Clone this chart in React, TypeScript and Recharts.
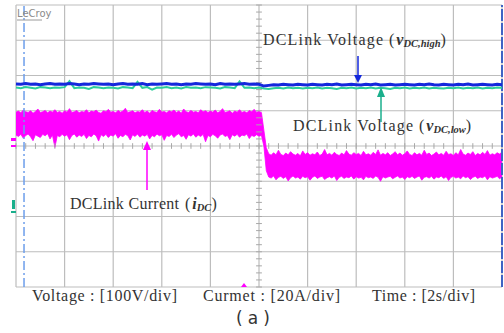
import React from "react";
import { ComposedChart, Area, Line, XAxis, YAxis, CartesianGrid, ReferenceLine } from "recharts";

// scope screen: 10 time divisions (2 s/div) x 8 vertical divisions
const timeTicks = [0, 2, 4, 6, 8, 10, 12, 14, 16, 18, 20];
const divTicks = [0, 1, 2, 3, 4, 5, 6, 7, 8];
const currentStep = 0.1; // s between current samples
const voltageStep = 0.2; // s between voltage samples

// voltage traces in screen divisions
const vHigh = [
  5.76, 5.75, 5.77, 5.75, 5.76, 5.74, 5.76, 5.77, 5.75, 5.76,
  5.75, 5.77, 5.76, 5.74, 5.76, 5.75, 5.77, 5.76, 5.75, 5.76,
  5.74, 5.76, 5.77, 5.75, 5.76, 5.75, 5.77, 5.74, 5.76, 5.75,
  5.76, 5.77, 5.75, 5.76, 5.74, 5.76, 5.75, 5.77, 5.76, 5.75,
  5.76, 5.74, 5.77, 5.75, 5.76, 5.75, 5.76, 5.77, 5.75, 5.76,
  5.75, 5.70, 5.72, 5.74, 5.73, 5.75, 5.74, 5.73, 5.75, 5.74,
  5.73, 5.75, 5.74, 5.73, 5.75, 5.74, 5.76, 5.73, 5.74, 5.75,
  5.74, 5.73, 5.75, 5.74, 5.76, 5.73, 5.74, 5.75, 5.73, 5.74,
  5.75, 5.74, 5.73, 5.75, 5.74, 5.76, 5.74, 5.73, 5.75, 5.74,
  5.73, 5.75, 5.74, 5.76, 5.73, 5.74, 5.75, 5.74, 5.73, 5.75,
  5.74,
];
const vLow = [
  5.66, 5.64, 5.67, 5.65, 5.63, 5.67, 5.66, 5.64, 5.66, 5.65,
  5.67, 5.84, 5.64, 5.66, 5.65, 5.62, 5.67, 5.66, 5.64, 5.66,
  5.65, 5.63, 5.67, 5.66, 5.64, 5.82, 5.65, 5.67, 5.60, 5.66,
  5.65, 5.67, 5.64, 5.66, 5.63, 5.67, 5.65, 5.66, 5.64, 5.67,
  5.66, 5.65, 5.63, 5.67, 5.66, 5.64, 5.83, 5.65, 5.66, 5.64,
  5.66, 5.63, 5.62, 5.64, 5.65, 5.63, 5.66, 5.64, 5.65, 5.63,
  5.65, 5.64, 5.66, 5.63, 5.65, 5.64, 5.62, 5.65, 5.64, 5.66,
  5.63, 5.65, 5.64, 5.66, 5.63, 5.65, 5.64, 5.62, 5.65, 5.64,
  5.66, 5.63, 5.65, 5.64, 5.66, 5.63, 5.65, 5.64, 5.63, 5.65,
  5.64, 5.66, 5.63, 5.65, 5.64, 5.66, 5.63, 5.65, 5.64, 5.66,
  5.65,
];
// DC link current: upper and lower edge of the noise band (0 .. 20 s)
const iTop = [
  4.96, 4.99, 4.94, 5.02, 4.97, 4.95, 5.00, 4.93, 4.98, 5.05,
  4.95, 4.97, 5.01, 4.94, 4.99, 4.96, 5.03, 4.95, 4.98, 4.93,
  5.00, 4.96, 5.06, 4.95, 4.97, 5.01, 4.94, 4.98, 4.96, 5.03,
  4.94, 4.99, 4.97, 5.02, 4.95, 4.93, 5.00, 4.97, 5.04, 4.96,
  4.98, 4.94, 5.01, 4.96, 4.99, 5.07, 4.95, 4.97, 5.00, 4.94,
  4.98, 4.96, 5.03, 4.95, 4.99, 4.93, 5.01, 4.97, 4.95, 5.04,
  4.96, 4.98, 4.94, 5.00, 4.97, 5.02, 4.95, 4.99, 4.93, 5.05,
  4.97, 4.95, 5.01, 4.96, 4.98, 4.94, 5.03, 4.97, 5.00, 4.95,
  4.99, 4.96, 5.02, 4.94, 4.98, 5.06, 4.95, 4.97, 5.00, 4.93,
  4.99, 4.96, 5.03, 4.95, 4.98, 4.94, 5.01, 4.97, 5.04, 4.96,
  4.98, 4.95,
  4.45, 3.95,
  3.78, 3.74, 3.81, 3.75, 3.88, 3.76, 3.73, 3.80, 3.75, 3.84,
  3.77, 3.74, 3.79, 3.72, 3.86, 3.76, 3.81, 3.74, 3.78, 3.75,
  3.83, 3.73, 3.77, 3.90, 3.75, 3.79, 3.74, 3.82, 3.76, 3.73,
  3.80, 3.75, 3.87, 3.77, 3.74, 3.81, 3.76, 3.79, 3.73, 3.85,
  3.75, 3.78, 3.74, 3.82, 3.76, 3.89, 3.74, 3.79, 3.75, 3.81,
  3.73, 3.77, 3.84, 3.75, 3.80, 3.74, 3.78, 3.86, 3.76, 3.73,
  3.81, 3.75, 3.79, 3.74, 3.88, 3.76, 3.80, 3.73, 3.77, 3.83,
  3.75, 3.79, 3.74, 3.85, 3.76, 3.78, 3.73, 3.81, 3.75, 3.90,
  3.77, 3.74, 3.80, 3.76, 3.84, 3.73, 3.79, 3.75, 3.82, 3.76,
  3.87, 3.74, 3.78, 3.75, 3.81, 3.77, 3.83,
];
const iBottom = [
  4.31, 4.27, 4.33, 4.22, 4.30, 4.34, 4.26, 4.15, 4.32, 4.28,
  4.24, 4.33, 4.29, 4.35, 4.20, 4.31, 3.96, 4.30, 4.26, 4.33,
  4.28, 4.32, 4.18, 4.30, 4.34, 4.25, 4.31, 4.27, 4.33, 4.21,
  4.30, 4.26, 4.34, 4.29, 4.14, 4.32, 4.27, 4.33, 4.24, 4.31,
  4.28, 4.35, 4.22, 4.30, 4.26, 4.33, 4.29, 4.17, 4.32, 4.27,
  4.34, 4.25, 4.31, 4.28, 4.33, 4.20, 4.30, 4.26, 4.34, 4.29,
  4.32, 4.16, 4.30, 4.27, 4.33, 4.24, 4.31, 4.35, 4.26, 4.30,
  4.19, 4.32, 4.28, 4.34, 4.25, 4.31, 4.27, 4.33, 4.12, 4.30,
  4.26, 4.33, 4.29, 4.22, 4.31, 4.34, 4.27, 4.30, 4.18, 4.32,
  4.28, 4.33, 4.25, 4.31, 4.29, 4.34, 4.21, 4.30, 4.27, 4.32,
  4.28, 4.30,
  4.00, 3.30,
  3.12, 3.09, 3.15, 3.04, 3.11, 3.14, 3.08, 3.13, 3.01, 3.10,
  3.15, 3.09, 3.12, 3.06, 3.14, 3.10, 3.13, 3.03, 3.11, 3.15,
  3.08, 3.12, 3.14, 3.05, 3.10, 3.13, 3.09, 3.15, 3.02, 3.11,
  3.14, 3.08, 3.12, 3.10, 3.15, 3.06, 3.13, 3.09, 3.11, 3.04,
  3.14, 3.10, 3.12, 3.08, 3.15, 3.11, 3.00, 3.13, 3.09, 3.12,
  3.14, 3.07, 3.11, 3.15, 3.09, 3.12, 3.05, 3.13, 3.10, 3.14,
  3.08, 3.12, 3.15, 3.03, 3.11, 3.13, 3.09, 3.14, 3.06, 3.12,
  3.10, 3.15, 3.08, 3.13, 3.02, 3.11, 3.14, 3.09, 3.12, 3.07,
  3.15, 3.10, 3.13, 3.05, 3.11, 3.14, 3.08, 3.12, 3.10, 3.15,
  3.04, 3.13, 3.09, 3.11, 3.14, 3.07, 3.12,
];

const ratio = Math.round(voltageStep / currentStep);
const data = iTop.map((top, i) => {
  const vi = i % ratio === 0 ? i / ratio : -1;
  return {
    t: Math.round(i * currentStep * 10) / 10,
    iDC: [iBottom[i], top],
    vHigh: vi >= 0 ? vHigh[vi] : null,
    vLow: vi >= 0 ? vLow[vi] : null,
  };
});

// small tick marks on the centre cross
const minorT = Array.from({ length: 51 }, (_, i) => Math.round(i * 4) / 10);
const minorD = Array.from({ length: 41 }, (_, i) => Math.round(i * 2) / 10);

const serif = "Liberation Serif, DejaVu Serif, serif";
const txt = "#333";

// "DCLink xxx (sym_sub)" annotation
function Note({ x, y, main, len, px, sym, sub }: { x: number; y: number; main: string; len: number; px: number; sym: string; sub: string }) {
  return (
    <g style={{ fontFamily: serif }} fill={txt}>
      <text x={x} y={y} fontSize={16} textLength={len} lengthAdjust="spacing">{main}</text>
      <text x={px} y={y} fontSize={16}>
        (
        <tspan dx="2" fontStyle="italic" fontWeight="bold">{sym}</tspan>
        <tspan fontStyle="italic" fontWeight="bold" fontSize="10.5" dy="2">{sub}</tspan>
        <tspan dy="-2">)</tspan>
      </text>
    </g>
  );
}

export default function App() {
  return (
    <div style={{ position: "absolute", left: 0, top: 0, width: 504, height: 333, background: "#fff" }}>
      <ComposedChart width={504} height={333} data={data} margin={{ top: 5, right: 2, left: 16, bottom: 46 }}>
        <XAxis dataKey="t" type="number" domain={[0, 20]} ticks={timeTicks} hide />
        <YAxis type="number" domain={[0, 8]} ticks={divTicks} hide />
        <CartesianGrid stroke="#bdbdbd" strokeWidth={1.2} />
        {minorT.map((t) => (
          <ReferenceLine key={"mt" + t} segment={[{ x: t, y: 3.92 }, { x: t, y: 4.08 }]} stroke="#a8a8a8" />
        ))}
        {minorD.map((d) => (
          <ReferenceLine key={"md" + d} segment={[{ x: 9.88, y: d }, { x: 10.12, y: d }]} stroke="#a8a8a8" />
        ))}
        <ReferenceLine x={0.33} stroke="#6d9eeb" strokeWidth={1.5} strokeDasharray="9 3 2 3" />
        <ReferenceLine x={20} stroke="#3f63c4" strokeWidth={2} strokeDasharray="12 2" />
        <Area dataKey="iDC" type="linear" stroke="#ff00ff" strokeWidth={0.8} fill="#ff00ff" fillOpacity={1} isAnimationActive={false} />
        <Line dataKey="vLow" type="linear" stroke="#2ccf9a" strokeWidth={2} dot={false} connectNulls isAnimationActive={false} />
        <Line dataKey="vHigh" type="linear" stroke="#1428dc" strokeWidth={3} dot={false} connectNulls isAnimationActive={false} />
      </ComposedChart>

      <svg width={504} height={333} style={{ position: "absolute", left: 0, top: 0, pointerEvents: "none" }}>
        <text x={17} y={17} fontFamily="DejaVu Sans, sans-serif" fontSize={10} fill="#8a8a8a">LeCroy</text>
        <line x1={17} y1={20} x2={42} y2={20} stroke="#9a9a9a" strokeWidth={1} />
        <rect x={11} y={138} width={5} height={3} fill="#ff00ff" />
        <rect x={11} y={145} width={5} height={2} fill="#ff00ff" />
        <rect x={12} y={200} width={3} height={9} fill="#1aaf8c" />
        <rect x={11} y={211} width={5} height={2} fill="#1aaf8c" />
        <polygon points="241,287 247,287 244,283" fill="#ff00ff" />

        <line x1={358} y1={56} x2={358} y2={76} stroke="#1428dc" strokeWidth={1.5} />
        <polygon points="354,75 362,75 358,83" fill="#1428dc" />
        <line x1={381} y1={96} x2={381} y2={122} stroke="#1aaf8c" strokeWidth={1.5} />
        <polygon points="377,97 385,97 381,87" fill="#1aaf8c" />
        <line x1={147} y1={149} x2={147} y2={190} stroke="#ff00ff" strokeWidth={1.5} />
        <polygon points="143,150 151,150 147,141" fill="#ff00ff" />

        <Note x={263} y={45} main="DCLink Voltage" len={120} px={389} sym="v" sub="DC,high" />
        <Note x={293} y={131} main="DCLink Voltage" len={120} px={419} sym="v" sub="DC,low" />
        <Note x={70} y={209} main="DCLink Current" len={109} px={185} sym="i" sub="DC" />

        <text x={32} y={301} style={{ fontFamily: serif }} fontSize={16} fill={txt} textLength={145} lengthAdjust="spacing">Voltage : [100V/div]</text>
        <text x={203} y={301} style={{ fontFamily: serif }} fontSize={16} fill={txt} textLength={137} lengthAdjust="spacing">Curmet : [20A/div]</text>
        <text x={372} y={301} style={{ fontFamily: serif }} fontSize={16} fill={txt} textLength={103} lengthAdjust="spacing">Time : [2s/div]</text>
        <text x={236} y={324} fontFamily="DejaVu Sans, sans-serif" fontSize={17} fill={txt} textLength={34} lengthAdjust="spacing">(a)</text>
      </svg>
    </div>
  );
}
